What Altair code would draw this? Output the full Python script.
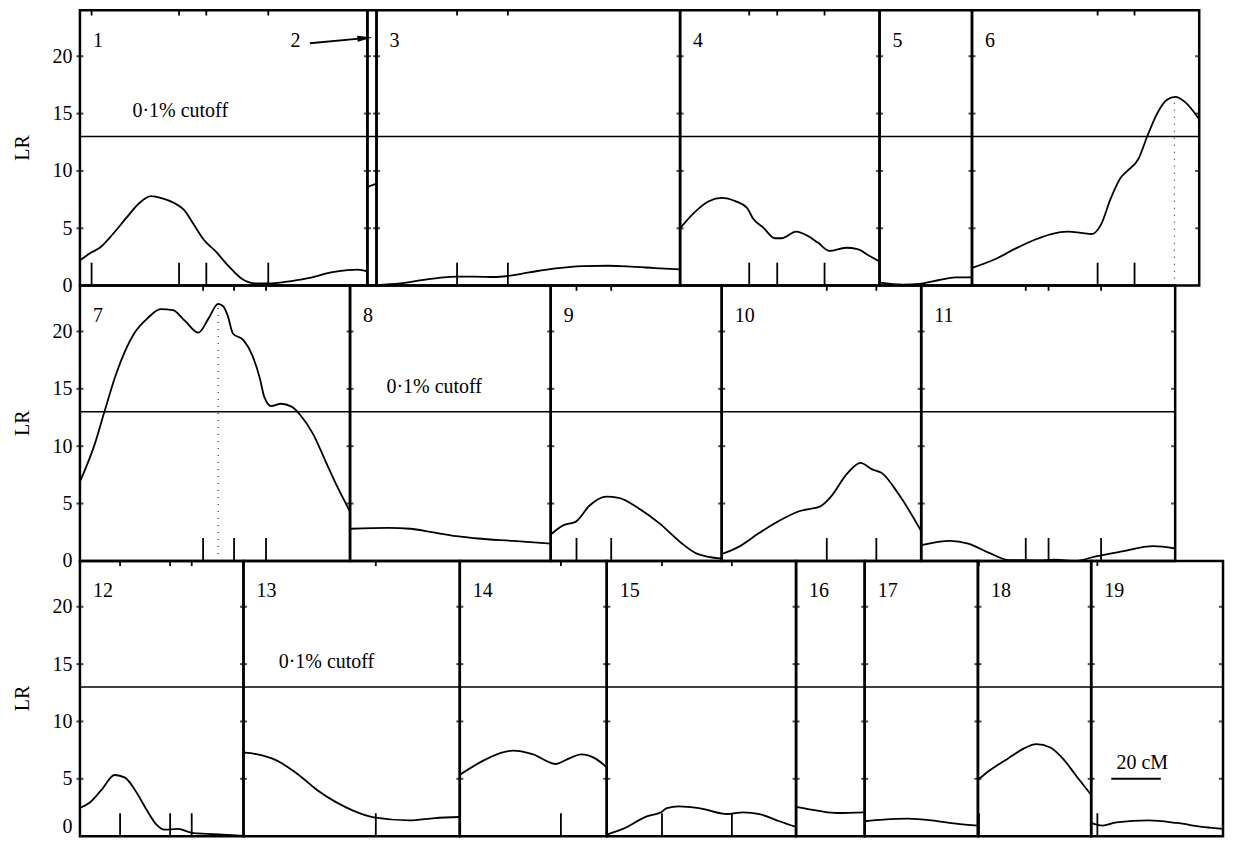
import altair as alt
import pandas as pd

# ---------------- data ----------------
ROW_CHROMS = [[1, 2, 3, 4, 5, 6], [7, 8, 9, 10, 11], [12, 13, 14, 15, 16, 17, 18, 19]]
CHROM_LENGTHS = [116, 3.7, 122.5, 80.5, 37.3, 91.7, 109, 81, 69, 80.5, 102.5,
                 66, 87.3, 59.3, 76.4, 27.7, 45.7, 45.7, 53.2]

chr1_cm = [0, 4.7, 8, 13.3, 18.7, 24, 28.7, 33.3, 38, 42, 46, 50, 54.7, 60, 65.3, 70.7, 77.3, 85.3, 93.3, 101.3, 108, 112, 116]
chr1_lr = [2.2, 2.9, 3.3, 4.5, 5.9, 7.2, 7.8, 7.6, 7.2, 6.6, 5.3, 4.0, 3.0, 1.7, 0.6, 0.2, 0.2, 0.4, 0.7, 1.15, 1.35, 1.4, 1.25]
chr2_cm = [0, 3.7]
chr2_lr = [8.6, 8.9]
chr3_cm = [0, 9.6, 19, 27, 32.3, 39, 48.3, 53, 61.6, 72.3, 83, 93.6, 103, 112.3, 122.5]
chr3_lr = [0.05, 0.2, 0.5, 0.72, 0.78, 0.78, 0.75, 0.84, 1.15, 1.5, 1.7, 1.73, 1.65, 1.53, 1.41]
chr4_cm = [0, 5.6, 11.6, 16.9, 22.3, 26.9, 29.6, 33.6, 38.3, 40.9, 46.9, 50.9, 55.6, 60.3, 66.9, 71.6, 76.3, 80.5]
chr4_lr = [5.0, 6.35, 7.36, 7.65, 7.36, 6.8, 5.8, 5.05, 4.13, 4.13, 4.7, 4.4, 3.75, 3.03, 3.3, 3.18, 2.6, 2.1]
chr5_cm = [0, 9.3, 16, 24, 30.7, 37.3]
chr5_lr = [0.26, 0.09, 0.15, 0.49, 0.72, 0.72]
chr6_cm = [0, 9.3, 17.3, 25.3, 32, 38.7, 44, 48.4, 52, 56, 60, 62.7, 67.3, 70.7, 74.7, 78.7, 82, 86, 91.7]
chr6_lr = [1.55, 2.3, 3.2, 4.0, 4.5, 4.7, 4.6, 4.5, 5.3, 7.6, 9.4, 10.0, 11.1, 13.0, 15.0, 16.2, 16.45, 16.0, 14.5]
chr7_cm = [0, 6, 9.6, 14.6, 21.8, 27.5, 32.5, 37.5, 42.5, 47.8, 51.8, 55.8, 57.8, 59.6, 61.8, 66, 69.6, 72.5, 74.4, 77.2, 81.1, 85.4, 89, 94, 99, 104, 109]
chr7_lr = [6.9, 10.2, 12.8, 16.3, 19.8, 21.2, 21.95, 21.86, 20.9, 19.9, 21.1, 22.4, 22.2, 21.4, 19.8, 19.25, 17.9, 16.0, 14.3, 13.5, 13.7, 13.45, 12.7, 11.1, 8.75, 6.4, 4.3]
chr8_cm = [0, 15.7, 24.3, 32.9, 42.9, 51.5, 65.8, 81]
chr8_lr = [2.8, 2.87, 2.8, 2.5, 2.15, 1.95, 1.74, 1.5]
chr9_cm = [0, 5, 10, 15.8, 22.4, 27.4, 35.7, 44, 52.2, 58.9, 69]
chr9_lr = [2.3, 3.1, 3.4, 4.85, 5.6, 5.5, 4.55, 3.25, 1.65, 0.64, 0.2]
chr10_cm = [0, 6.6, 14.9, 23.2, 31.5, 39.8, 43.9, 50.6, 56, 60.5, 64.7, 71.3, 80.5]
chr10_lr = [0.6, 1.2, 2.4, 3.5, 4.35, 4.75, 5.55, 7.6, 8.55, 8.0, 7.65, 5.85, 2.6]
chr11_cm = [0, 11.6, 19, 27.4, 35.6, 47.2, 53.9, 62.2, 70.5, 80.4, 93.7, 102.5]
chr11_lr = [1.37, 1.74, 1.5, 0.7, 0.06, 0.05, 0.1, 0.0, 0.4, 0.8, 1.28, 1.08]
chr12_cm = [0, 4, 8.7, 14, 18.2, 22.2, 26.9, 30.9, 34, 39.6, 45.1, 51.4, 59.3, 66]
chr12_lr = [2.45, 2.94, 4.03, 5.33, 5.1, 4.03, 2.3, 1.0, 0.57, 0.63, 0.29, 0.2, 0.11, 0.03]
chr13_cm = [0, 5.2, 13.1, 21.8, 29.7, 36.8, 44, 52.6, 66.9, 77.2, 87.3]
chr13_lr = [7.3, 7.15, 6.63, 5.42, 4.03, 3.03, 2.25, 1.64, 1.38, 1.58, 1.67]
chr14_cm = [0, 8.7, 16.6, 21.4, 29.3, 38.8, 42.7, 49.1, 54.6, 59.3]
chr14_lr = [5.35, 6.5, 7.27, 7.45, 7.15, 6.29, 6.63, 7.13, 6.78, 6.0]
chr15_cm = [0, 6.5, 16.2, 21.9, 24.3, 29.1, 37.2, 48.6, 55.1, 61.6, 69.6, 76.4]
chr15_lr = [0.14, 0.63, 1.73, 2.08, 2.45, 2.6, 2.45, 1.93, 2.08, 1.93, 1.3, 0.81]
chr16_cm = [0, 9.2, 16.5, 27.7]
chr16_lr = [2.55, 2.2, 2.02, 2.08]
chr17_cm = [0, 7.6, 17.3, 27, 36.8, 45.7]
chr17_lr = [1.3, 1.44, 1.52, 1.38, 1.09, 0.92]
chr18_cm = [0, 3.2, 12.2, 18.6, 23.5, 29.2, 34.8, 39.7, 45.7]
chr18_lr = [4.9, 5.48, 6.78, 7.65, 8.02, 7.73, 6.63, 5.25, 3.6]
chr19_cm = [0, 4.5, 10.2, 23.2, 34.5, 45.8, 53.2]
chr19_lr = [1.15, 0.92, 1.21, 1.38, 1.15, 0.78, 0.63]

chr1_markers = [4.7, 40, 51, 76]
chr3_markers = [32.5, 53]
chr4_markers = [27.9, 39.2, 58.3]
chr6_markers = [50.7, 65.6]
chr7_markers = [49.7, 62.2, 75.1]
chr9_markers = [10.4, 24.4]
chr10_markers = [42.4, 62.4]
chr11_markers = [42.2, 51.4, 72.6]
chr12_markers = [16.2, 36.4, 45.1]
chr13_markers = [53.4]
chr14_markers = [40.8]
chr15_markers = [22.3, 50.5]
chr18_markers = [0.4]
chr19_markers = [2.5]

PEAK_CHROMS = [6, 7]
PEAK_CM = [81.7, 55.8]
PEAK_LR = [16.45, 22.4]

CUTOFF = 13
CUTOFF_TEXT = "0·1% cutoff"
CUTOFF_TEXT_CHROMS = [1, 8, 13]
CUTOFF_TEXT_CM = [21.2, 14.7, 14.2]
Y_TICKS = [0, 5, 10, 15, 20]
Y_TITLE = "LR"
SCALE_BAR_CM = 20

CURVES = {
    1: (chr1_cm, chr1_lr), 2: (chr2_cm, chr2_lr), 3: (chr3_cm, chr3_lr), 4: (chr4_cm, chr4_lr),
    5: (chr5_cm, chr5_lr), 6: (chr6_cm, chr6_lr), 7: (chr7_cm, chr7_lr), 8: (chr8_cm, chr8_lr),
    9: (chr9_cm, chr9_lr), 10: (chr10_cm, chr10_lr), 11: (chr11_cm, chr11_lr), 12: (chr12_cm, chr12_lr),
    13: (chr13_cm, chr13_lr), 14: (chr14_cm, chr14_lr), 15: (chr15_cm, chr15_lr), 16: (chr16_cm, chr16_lr),
    17: (chr17_cm, chr17_lr), 18: (chr18_cm, chr18_lr), 19: (chr19_cm, chr19_lr),
}
MARKERS = {1: chr1_markers, 3: chr3_markers, 4: chr4_markers, 6: chr6_markers, 7: chr7_markers,
           9: chr9_markers, 10: chr10_markers, 11: chr11_markers, 12: chr12_markers,
           13: chr13_markers, 14: chr14_markers, 15: chr15_markers, 18: chr18_markers,
           19: chr19_markers}

# ---------------- layout / style ----------------
FONT = "Liberation Serif"
FONT_SIZE = 20
Y_MAX = 24
PX_PER_CM = 2.48
ROW_HEIGHT = 275.5
MARKER_TOP = 2.0
TOP_TICK_LEN = 0.45
LABEL_LR = 21.35
CUTOFF_TEXT_LR = 15.2
BORDER_W = 2.5
TITLE_X_OFFSET = -57
# arrow pointing at the tiny chromosome 2 panel (row-1 coordinates: cM, LR)
ARROW_LABEL = (87.0, 21.3)
ARROW_LINE = (92.8, 21.13, 112.8, 21.54)
ARROW_HEAD = (115.0, 21.58)
ARROW_PATH = "M-1,-0.4L1,0L-1,0.4Z"
# scale bar inside chromosome 19 panel (cM from panel start, LR)
SCALE_BAR_START = 8.1
SCALE_BAR_LR = 5.0
SCALE_TEXT_LR = 6.4

n_rows = len(ROW_CHROMS)
rect_rows, cut_rows, tick_rows, tick_edge_rows = [], [], [], []
mk_rows, top_rows, pk_rows, curve_rows = [], [], [], []
lab_rows, ct_rows, title_rows = [], [], []
arrow_label_rows, arrow_line_rows, arrow_head_rows = [], [], []
bar_rows, bar_text_rows = [], []
axis_values = []
max_total = 0.0

for r, chroms in enumerate(ROW_CHROMS):
    base = (n_rows - 1 - r) * Y_MAX
    axis_values += [base + v for v in Y_TICKS]
    acc = 0.0
    offsets = {}
    for c in chroms:
        L = CHROM_LENGTHS[c - 1]
        offsets[c] = acc
        rect_rows.append({"x": acc, "x2": acc + L, "lr": base, "lr2": base + Y_MAX})
        acc += L
    total = acc
    max_total = max(max_total, total)
    cut_rows.append({"x": 0.0, "x2": total, "lr": base + CUTOFF})
    title_rows.append({"x": 0.0, "lr": base + Y_MAX / 2, "t": Y_TITLE})
    for b in [offsets[c] for c in chroms]:
        for t in Y_TICKS[1:]:
            tick_rows.append({"x": b, "lr": base + t})
    for t in Y_TICKS[1:]:
        tick_edge_rows.append({"x": total, "lr": base + t})
    for c in chroms:
        cms, lrs = CURVES[c]
        for p, v in zip(cms, lrs):
            curve_rows.append({"chrom": c, "x": offsets[c] + p, "lr": base + v})
        for m in MARKERS.get(c, []):
            mk_rows.append({"x": offsets[c] + m, "lr": base, "lr2": base + MARKER_TOP})
            top_rows.append({"x": offsets[c] + m, "lr": base + Y_MAX - TOP_TICK_LEN,
                             "lr2": base + Y_MAX})
        if c != 2:
            lab_rows.append({"x": offsets[c], "lr": base + LABEL_LR, "t": str(c)})
    for c, p, v in zip(PEAK_CHROMS, PEAK_CM, PEAK_LR):
        if c in offsets:
            pk_rows.append({"x": offsets[c] + p, "lr": base, "lr2": base + v})
    for c, p in zip(CUTOFF_TEXT_CHROMS, CUTOFF_TEXT_CM):
        if c in offsets:
            ct_rows.append({"x": offsets[c] + p, "lr": base + CUTOFF_TEXT_LR, "t": CUTOFF_TEXT})
    if 2 in offsets:
        arrow_label_rows.append({"x": ARROW_LABEL[0], "lr": base + ARROW_LABEL[1], "t": "2"})
        arrow_line_rows.append({"x": ARROW_LINE[0], "lr": base + ARROW_LINE[1],
                                "x2": ARROW_LINE[2], "lr2": base + ARROW_LINE[3]})
        arrow_head_rows.append({"x": ARROW_HEAD[0], "lr": base + ARROW_HEAD[1]})
    if 19 in offsets:
        s0 = offsets[19] + SCALE_BAR_START
        bar_rows.append({"x": s0, "x2": s0 + SCALE_BAR_CM, "lr": base + SCALE_BAR_LR})
        bar_text_rows.append({"x": s0 + SCALE_BAR_CM / 2 + 2.5, "lr": base + SCALE_TEXT_LR,
                              "t": f"{SCALE_BAR_CM} cM"})

xs = alt.Scale(domain=[0, max_total], nice=False, zero=False)
ys = alt.Scale(domain=[0, n_rows * Y_MAX], nice=False)
X = alt.X("x:Q", scale=xs, axis=None)
X2 = alt.X2("x2:Q")
Y2 = alt.Y2("lr2:Q")
Y = alt.Y("lr:Q", scale=ys, axis=alt.Axis(
    values=axis_values, labelExpr=f"'' + (datum.value % {Y_MAX})", title=None,
    ticks=False, domain=False, grid=False, labelFlush=True,
    labelFont=FONT, labelFontSize=FONT_SIZE, labelColor="black", labelPadding=8))

txt = dict(font=FONT, fontSize=FONT_SIZE, color="black")

layers = [
    # cutoff lines
    alt.Chart(pd.DataFrame(cut_rows)).mark_rule(color="black", strokeWidth=1.6).encode(
        x=X, x2=X2, y=Y),
    # markers
    alt.Chart(pd.DataFrame(mk_rows)).mark_rule(color="black", strokeWidth=1.8).encode(
        x=X, y=Y, y2=Y2),
    alt.Chart(pd.DataFrame(top_rows)).mark_rule(color="black", strokeWidth=1.8).encode(
        x=X, y=Y, y2=Y2),
    # peak dotted lines
    alt.Chart(pd.DataFrame(pk_rows)).mark_rule(
        color="#333", strokeWidth=1.2, strokeDash=[1, 6]).encode(x=X, y=Y, y2=Y2),
    # LR curves
    alt.Chart(pd.DataFrame(curve_rows)).mark_line(
        color="black", strokeWidth=1.8, interpolate="monotone").encode(
        x=X, y=Y, detail="chrom:N"),
    # panel frames
    alt.Chart(pd.DataFrame(rect_rows)).mark_rect(
        fill="white", fillOpacity=0, stroke="black", strokeWidth=BORDER_W).encode(
        x=X, x2=X2, y=Y, y2=Y2),
    # border ticks
    alt.Chart(pd.DataFrame(tick_rows)).mark_tick(
        orient="horizontal", size=7, thickness=2, color="black").encode(x=X, y=Y),
    alt.Chart(pd.DataFrame(tick_edge_rows)).mark_tick(
        orient="horizontal", size=4, thickness=2, color="black", xOffset=-2).encode(x=X, y=Y),
    # panel numbers
    alt.Chart(pd.DataFrame(lab_rows)).mark_text(
        align="left", baseline="middle", dx=13, **txt).encode(x=X, y=Y, text="t:N"),
    # cutoff labels
    alt.Chart(pd.DataFrame(ct_rows)).mark_text(
        align="left", baseline="middle", **txt).encode(x=X, y=Y, text="t:N"),
    # row titles
    alt.Chart(pd.DataFrame(title_rows)).mark_text(
        align="center", baseline="middle", angle=270, xOffset=TITLE_X_OFFSET, **txt).encode(
        x=X, y=Y, text="t:N"),
    # arrow to chromosome 2
    alt.Chart(pd.DataFrame(arrow_label_rows)).mark_text(
        align="center", baseline="middle", **txt).encode(x=X, y=Y, text="t:N"),
    alt.Chart(pd.DataFrame(arrow_line_rows)).mark_rule(color="black", strokeWidth=1.8).encode(
        x=X, x2=X2, y=Y, y2=Y2),
    alt.Chart(pd.DataFrame(arrow_head_rows)).mark_point(
        shape=ARROW_PATH, size=225, filled=True, color="black", opacity=1,
        angle=354.6).encode(x=X, y=Y),
    # scale bar
    alt.Chart(pd.DataFrame(bar_rows)).mark_rule(color="black", strokeWidth=2).encode(
        x=X, x2=X2, y=Y),
    alt.Chart(pd.DataFrame(bar_text_rows)).mark_text(
        align="center", baseline="middle", **txt).encode(x=X, y=Y, text="t:N"),
]

chart = alt.layer(*layers).properties(
    width=max_total * PX_PER_CM,
    height=n_rows * ROW_HEIGHT,
    padding={"left": 5, "top": 0, "right": 0, "bottom": 0},
    background="white",
).configure_view(strokeWidth=0)

chart.save("out.html", embed_options={"renderer": "svg", "actions": False})
